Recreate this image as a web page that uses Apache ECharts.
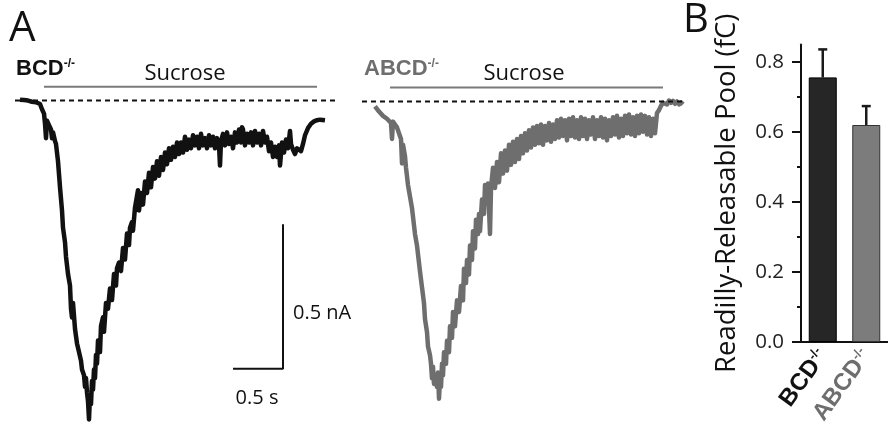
<!DOCTYPE html>
<html>
<head>
<meta charset="utf-8">
<script src="https://cdn.jsdelivr.net/npm/echarts@6/dist/echarts.min.js"></script>
<style>
html,body{margin:0;padding:0;background:#fff;}
#chart{width:888px;height:433px;}
</style>
</head>
<body>
<div id="chart"></div>
<script>
// ---------- Panel A: sucrose-evoked currents (time in s, current in nA) ----------
const bcdTrace = [
[0.00,0.003],[0.04,0.002],[0.08,0.000],[0.12,-0.004],[0.16,-0.006],[0.20,-0.012],[0.22,-0.030],[0.24,-0.045],
[0.25,-0.080],[0.26,-0.130],[0.27,-0.070],[0.29,-0.085],[0.31,-0.100],[0.32,-0.130],[0.33,-0.110],[0.35,-0.140],
[0.36,-0.150],[0.38,-0.210],[0.40,-0.300],[0.42,-0.380],[0.43,-0.440],[0.45,-0.490],[0.46,-0.540],[0.48,-0.600],
[0.50,-0.640],[0.51,-0.720],[0.52,-0.750],[0.53,-0.700],[0.55,-0.790],[0.57,-0.840],[0.59,-0.870],[0.61,-0.900],
[0.62,-0.930],[0.64,-0.950],[0.65,-0.990],[0.66,-0.960],[0.67,-1.010],[0.68,-1.040],[0.69,-1.103],[0.70,-1.020],
[0.71,-1.050],[0.72,-0.970],[0.73,-1.000],[0.74,-0.930],[0.75,-0.960],[0.76,-0.880],[0.77,-0.910],[0.78,-0.830],
[0.80,-0.870],[0.81,-0.780],[0.83,-0.750],[0.84,-0.800],[0.86,-0.700],[0.88,-0.720],[0.90,-0.650],[0.92,-0.690],
[0.94,-0.600],[0.96,-0.640],[0.97,-0.580],[0.99,-0.560],[1.01,-0.590],[1.03,-0.510],[1.05,-0.550],[1.07,-0.460],
[1.09,-0.500],[1.10,-0.440],[1.12,-0.420],[1.13,-0.450],[1.15,-0.370],[1.17,-0.370],[1.18,-0.310],[1.19,-0.380],
[1.21,-0.320],[1.23,-0.360],[1.25,-0.280],[1.27,-0.320],[1.29,-0.250],[1.31,-0.300],[1.33,-0.230],[1.35,-0.270],
[1.37,-0.210],[1.39,-0.260],[1.41,-0.195],[1.43,-0.240],[1.45,-0.180],[1.47,-0.220],[1.49,-0.165],[1.51,-0.205],
[1.53,-0.160],[1.55,-0.195],[1.57,-0.145],[1.59,-0.185],[1.61,-0.145],[1.63,-0.180],[1.65,-0.125],[1.67,-0.170],
[1.69,-0.135],[1.71,-0.165],[1.73,-0.120],[1.75,-0.155],[1.77,-0.125],[1.79,-0.165],[1.81,-0.115],[1.83,-0.155],
[1.85,-0.130],[1.87,-0.165],[1.89,-0.120],[1.91,-0.155],[1.93,-0.125],[1.95,-0.165],[1.97,-0.130],[1.99,-0.155],
[2.00,-0.225],[2.01,-0.140],[2.03,-0.115],[2.05,-0.155],[2.07,-0.110],[2.09,-0.150],[2.11,-0.125],[2.13,-0.165],
[2.15,-0.110],[2.17,-0.145],[2.19,-0.100],[2.21,-0.145],[2.22,-0.092],[2.23,-0.100],[2.25,-0.155],[2.27,-0.115],
[2.29,-0.145],[2.31,-0.110],[2.33,-0.155],[2.35,-0.105],[2.37,-0.145],[2.39,-0.115],[2.41,-0.155],[2.43,-0.105],
[2.45,-0.145],[2.47,-0.125],[2.49,-0.175],[2.51,-0.145],[2.53,-0.195],[2.55,-0.160],[2.57,-0.195],[2.59,-0.155],
[2.60,-0.225],[2.62,-0.145],[2.64,-0.180],[2.66,-0.135],[2.68,-0.165],[2.70,-0.105],[2.71,-0.150],[2.73,-0.170],
[2.75,-0.185],[2.77,-0.165],[2.79,-0.160],[2.81,-0.175],[2.83,-0.150],[2.85,-0.120],[2.88,-0.095],[2.91,-0.080],
[2.94,-0.072],[2.97,-0.068],[3.00,-0.066],[3.05,-0.068]
];
const abcdTrace = [
[0.00,-0.017],[0.02,-0.020],[0.04,-0.035],[0.06,-0.030],[0.08,-0.050],[0.10,-0.045],[0.12,-0.060],[0.14,-0.055],
[0.16,-0.075],[0.17,-0.130],[0.18,-0.070],[0.20,-0.080],[0.22,-0.090],[0.24,-0.110],[0.26,-0.130],[0.27,-0.215],
[0.28,-0.150],[0.30,-0.190],[0.31,-0.230],[0.33,-0.290],[0.35,-0.330],[0.37,-0.370],[0.38,-0.400],[0.40,-0.460],
[0.42,-0.500],[0.43,-0.530],[0.45,-0.590],[0.47,-0.645],[0.49,-0.700],[0.50,-0.755],[0.52,-0.800],[0.53,-0.850],
[0.55,-0.880],[0.56,-0.910],[0.57,-0.960],[0.58,-0.920],[0.59,-0.980],[0.60,-0.950],[0.62,-0.990],[0.63,-0.940],
[0.64,-1.031],[0.65,-0.960],[0.66,-0.990],[0.67,-0.910],[0.68,-0.950],[0.69,-0.870],[0.71,-0.910],[0.72,-0.830],
[0.74,-0.870],[0.75,-0.780],[0.77,-0.820],[0.78,-0.730],[0.80,-0.780],[0.82,-0.690],[0.84,-0.730],[0.86,-0.640],
[0.88,-0.690],[0.89,-0.580],[0.91,-0.630],[0.92,-0.550],[0.94,-0.600],[0.95,-0.500],[0.97,-0.550],[0.98,-0.450],
[1.00,-0.510],[1.01,-0.410],[1.03,-0.460],[1.04,-0.390],[1.05,-0.450],[1.07,-0.340],[1.09,-0.390],[1.10,-0.290],
[1.12,-0.350],[1.13,-0.285],[1.15,-0.460],[1.16,-0.300],[1.18,-0.230],[1.20,-0.300],[1.22,-0.210],[1.24,-0.280],
[1.26,-0.180],[1.28,-0.250],[1.30,-0.170],[1.32,-0.240],[1.34,-0.150],[1.36,-0.220],[1.38,-0.140],[1.40,-0.210],
[1.42,-0.130],[1.44,-0.200],[1.46,-0.120],[1.48,-0.180],[1.50,-0.110],[1.52,-0.170],[1.54,-0.100],[1.56,-0.160],
[1.58,-0.090],[1.60,-0.150],[1.62,-0.085],[1.64,-0.145],[1.66,-0.080],[1.68,-0.150],[1.70,-0.085],[1.72,-0.135],
[1.74,-0.075],[1.76,-0.140],[1.78,-0.080],[1.80,-0.130],[1.82,-0.065],[1.84,-0.125],[1.86,-0.060],[1.88,-0.120],
[1.90,-0.065],[1.92,-0.135],[1.94,-0.060],[1.96,-0.120],[1.98,-0.055],[2.00,-0.125],[2.02,-0.065],[2.04,-0.130],
[2.06,-0.055],[2.08,-0.120],[2.10,-0.060],[2.12,-0.130],[2.14,-0.065],[2.16,-0.115],[2.18,-0.055],[2.20,-0.130],
[2.22,-0.065],[2.24,-0.120],[2.26,-0.055],[2.28,-0.125],[2.30,-0.060],[2.32,-0.135],[2.34,-0.065],[2.36,-0.120],
[2.38,-0.055],[2.40,-0.115],[2.42,-0.050],[2.44,-0.125],[2.46,-0.060],[2.48,-0.120],[2.50,-0.050],[2.52,-0.110],
[2.54,-0.045],[2.56,-0.115],[2.58,-0.055],[2.60,-0.120],[2.62,-0.050],[2.64,-0.110],[2.66,-0.045],[2.68,-0.105],
[2.70,-0.050],[2.72,-0.115],[2.74,-0.055],[2.76,-0.120],[2.78,-0.060],[2.80,-0.110],[2.82,-0.040],[2.84,-0.030],
[2.86,-0.015],[2.88,-0.005],[2.90,0.000],[2.92,-0.010],[2.94,0.003],[2.96,-0.005],[2.98,0.002],[3.00,-0.008],
[3.02,0.000],[3.04,-0.010],[3.06,-0.003],[3.08,-0.010]
];
// sucrose application windows (s) and baseline extents (s)
const bcdSucrose = [0.24, 2.97];
const abcdSucrose = [0.15, 2.88];
const bcdBaseline = [-0.05, 3.15];
const abcdBaseline = [-0.13, 3.08];
// scale bar sizes
const scaleTime = 0.5;      // s
const scaleCurrent = 0.5;   // nA

// ---------- Panel B: readily-releasable pool ----------
const genotypes = ['BCD-/-', 'ABCD-/-'];
const rrpMean = [0.756, 0.620];
const rrpErr = [0.080, 0.054];
const yTicks = [0, 0.2, 0.4, 0.6, 0.8];
const yMinorTicks = [0.1, 0.3, 0.5, 0.7];

const FONT = "'Open Sans', 'DejaVu Sans', sans-serif";
const BOLD = "'Liberation Sans', Arial, sans-serif";
const DARK = '#111';
const GREY = '#6e6e6e';

const chart = echarts.init(document.getElementById('chart'), null, {renderer: 'canvas'});

function flat(x0, x1, y) { return [[x0, y], [x1, y]]; }
const sucroseLevel = 0.048;
const sbX = 2.63, sbY = -0.928;

const traceGrid = (left, top) => ({left: left, top: top, width: 350, height: 379.6});
const hiddenX = (g) => ({gridIndex: g, type: 'value', min: -0.2, max: 3.3, show: false});
const hiddenY = (g) => ({gridIndex: g, type: 'value', min: -1.15, max: 0.15, show: false});

const option = {
  backgroundColor: '#fff',
  animation: false,
  grid: [
    traceGrid(0, 57.2),
    traceGrid(355, 58.2),
    {left: 801, top: 44.5, width: 87, height: 297.5}
  ],
  xAxis: [
    hiddenX(0), hiddenX(1),
    {
      gridIndex: 2, type: 'category', data: genotypes,
      axisLine: {lineStyle: {color: DARK, width: 2}},
      axisTick: {show: false},
      axisLabel: {
        rotate: 54, margin: 10, interval: 0,
        formatter: function (v) {
          const base = v.replace('-/-', '');
          return v === 'BCD-/-' ? '{k|' + base + '}{ks|-/-}' : '{g|' + base + '}{gs|-/-}';
        },
        rich: {
          k: {fontFamily: BOLD, fontWeight: 'bold', fontSize: 24, color: DARK},
          ks: {fontFamily: BOLD, fontWeight: 'bold', fontSize: 13, color: DARK, verticalAlign: 'top'},
          g: {fontFamily: BOLD, fontWeight: 'bold', fontSize: 24, color: GREY},
          gs: {fontFamily: BOLD, fontWeight: 'bold', fontSize: 13, color: GREY, verticalAlign: 'top'}
        }
      }
    }
  ],
  yAxis: [
    hiddenY(0), hiddenY(1),
    {
      gridIndex: 2, type: 'value', min: 0, max: 0.85, interval: 0.2,
      name: 'Readilly-Releasable Pool (fC)', nameLocation: 'middle', nameGap: 60,
      nameTextStyle: {fontFamily: FONT, fontSize: 27.5, color: DARK},
      axisLine: {show: true, lineStyle: {color: DARK, width: 2}},
      axisTick: {show: true, length: 9, lineStyle: {color: DARK, width: 2}, customValues: yTicks},
      axisLabel: {customValues: yTicks, fontFamily: FONT, fontSize: 20.5, color: '#222', margin: 17,
        formatter: v => v.toFixed(1)},
      splitLine: {show: false}
    },
    {
      gridIndex: 2, type: 'value', min: 0, max: 0.85, position: 'left', offset: 0,
      axisLine: {show: false},
      axisTick: {show: true, length: 4, lineStyle: {color: DARK, width: 2}, customValues: yMinorTicks},
      axisLabel: {show: false},
      splitLine: {show: false}
    }
  ],
  series: [
    // BCD panel
    {type: 'line', xAxisIndex: 0, yAxisIndex: 0, data: flat(bcdSucrose[0], bcdSucrose[1], sucroseLevel),
      symbol: 'none', lineStyle: {color: '#7a7a7a', width: 2}, silent: true},
    {type: 'line', xAxisIndex: 0, yAxisIndex: 0, data: flat(bcdBaseline[0], bcdBaseline[1], 0),
      symbol: 'none', lineStyle: {color: DARK, width: 2, type: [5, 4]}, silent: true},
    {type: 'line', xAxisIndex: 0, yAxisIndex: 0, data: bcdTrace, symbol: 'none',
      lineStyle: {color: DARK, width: 4.5, join: 'round'}, silent: true, z: 3},
    {type: 'line', xAxisIndex: 0, yAxisIndex: 0,
      data: [[sbX - scaleTime, sbY], [sbX, sbY], [sbX, sbY + scaleCurrent]],
      symbol: 'none', lineStyle: {color: DARK, width: 2}, silent: true},
    // ABCD panel
    {type: 'line', xAxisIndex: 1, yAxisIndex: 1, data: flat(abcdSucrose[0], abcdSucrose[1], sucroseLevel),
      symbol: 'none', lineStyle: {color: '#7a7a7a', width: 2}, silent: true},
    {type: 'line', xAxisIndex: 1, yAxisIndex: 1, data: abcdTrace, symbol: 'none',
      lineStyle: {color: GREY, width: 4.5, join: 'round'}, silent: true, z: 2},
    {type: 'line', xAxisIndex: 1, yAxisIndex: 1, data: flat(abcdBaseline[0], abcdBaseline[1], 0),
      symbol: 'none', lineStyle: {color: DARK, width: 2, type: [5, 4]}, silent: true, z: 3},
    // Panel B bars
    {type: 'bar', xAxisIndex: 2, yAxisIndex: 2, barWidth: 28,
      data: rrpMean.map((v, i) => ({value: v, itemStyle: i === 0
        ? {color: '#262626', borderColor: '#000', borderWidth: 1}
        : {color: '#7c7c7c', borderColor: '#333', borderWidth: 1}})), z: 2},
    {type: 'custom', xAxisIndex: 2, yAxisIndex: 2,
      data: rrpMean.map((v, i) => [i, v, v + rrpErr[i]]),
      renderItem: function (params, api) {
        const base = api.coord([api.value(0), api.value(1)]);
        const top = api.coord([api.value(0), api.value(2)]);
        const half = 4.5;
        const col = '#1a1a1a';
        return {type: 'group', children: [
          {type: 'line', shape: {x1: base[0], y1: base[1], x2: top[0], y2: top[1]},
            style: {stroke: col, lineWidth: 2.5}},
          {type: 'line', shape: {x1: top[0] - half, y1: top[1], x2: top[0] + half, y2: top[1]},
            style: {stroke: col, lineWidth: 2.5}}
        ]};
      }, z: 1}
  ],
  graphic: [
    {type: 'text', left: 9, top: 8, style: {text: 'A', font: '42px ' + FONT, fill: DARK}},
    {type: 'text', left: 683, top: 1, style: {text: 'B', font: '40px ' + FONT, fill: DARK}},
    {type: 'text', left: 16, top: 58, style: {text: '{b|BCD}{s|-/-}', rich: {
      b: {fontFamily: BOLD, fontWeight: 'bold', fontSize: 22, fill: DARK},
      s: {fontFamily: BOLD, fontWeight: 'bold', fontSize: 12, fill: DARK, verticalAlign: 'top'}}}},
    {type: 'text', left: 364, top: 58, style: {text: '{b|ABCD}{s|-/-}', rich: {
      b: {fontFamily: BOLD, fontWeight: 'bold', fontSize: 22, fill: GREY},
      s: {fontFamily: BOLD, fontWeight: 'bold', fontSize: 12, fill: GREY, verticalAlign: 'top'}}}},
    {type: 'text', x: 185, y: 74, style: {text: 'Sucrose', font: '22px ' + FONT, fill: DARK,
      align: 'center', verticalAlign: 'middle'}},
    {type: 'text', x: 524, y: 74, style: {text: 'Sucrose', font: '22px ' + FONT, fill: DARK,
      align: 'center', verticalAlign: 'middle'}},
    {type: 'text', x: 293, y: 313, style: {text: '0.5 nA', font: '20px ' + FONT, fill: DARK,
      align: 'left', verticalAlign: 'middle'}},
    {type: 'text', x: 257, y: 398, style: {text: '0.5 s', font: '20px ' + FONT, fill: DARK,
      align: 'center', verticalAlign: 'middle'}}
  ]
};
chart.setOption(option);
</script>
</body>
</html>
